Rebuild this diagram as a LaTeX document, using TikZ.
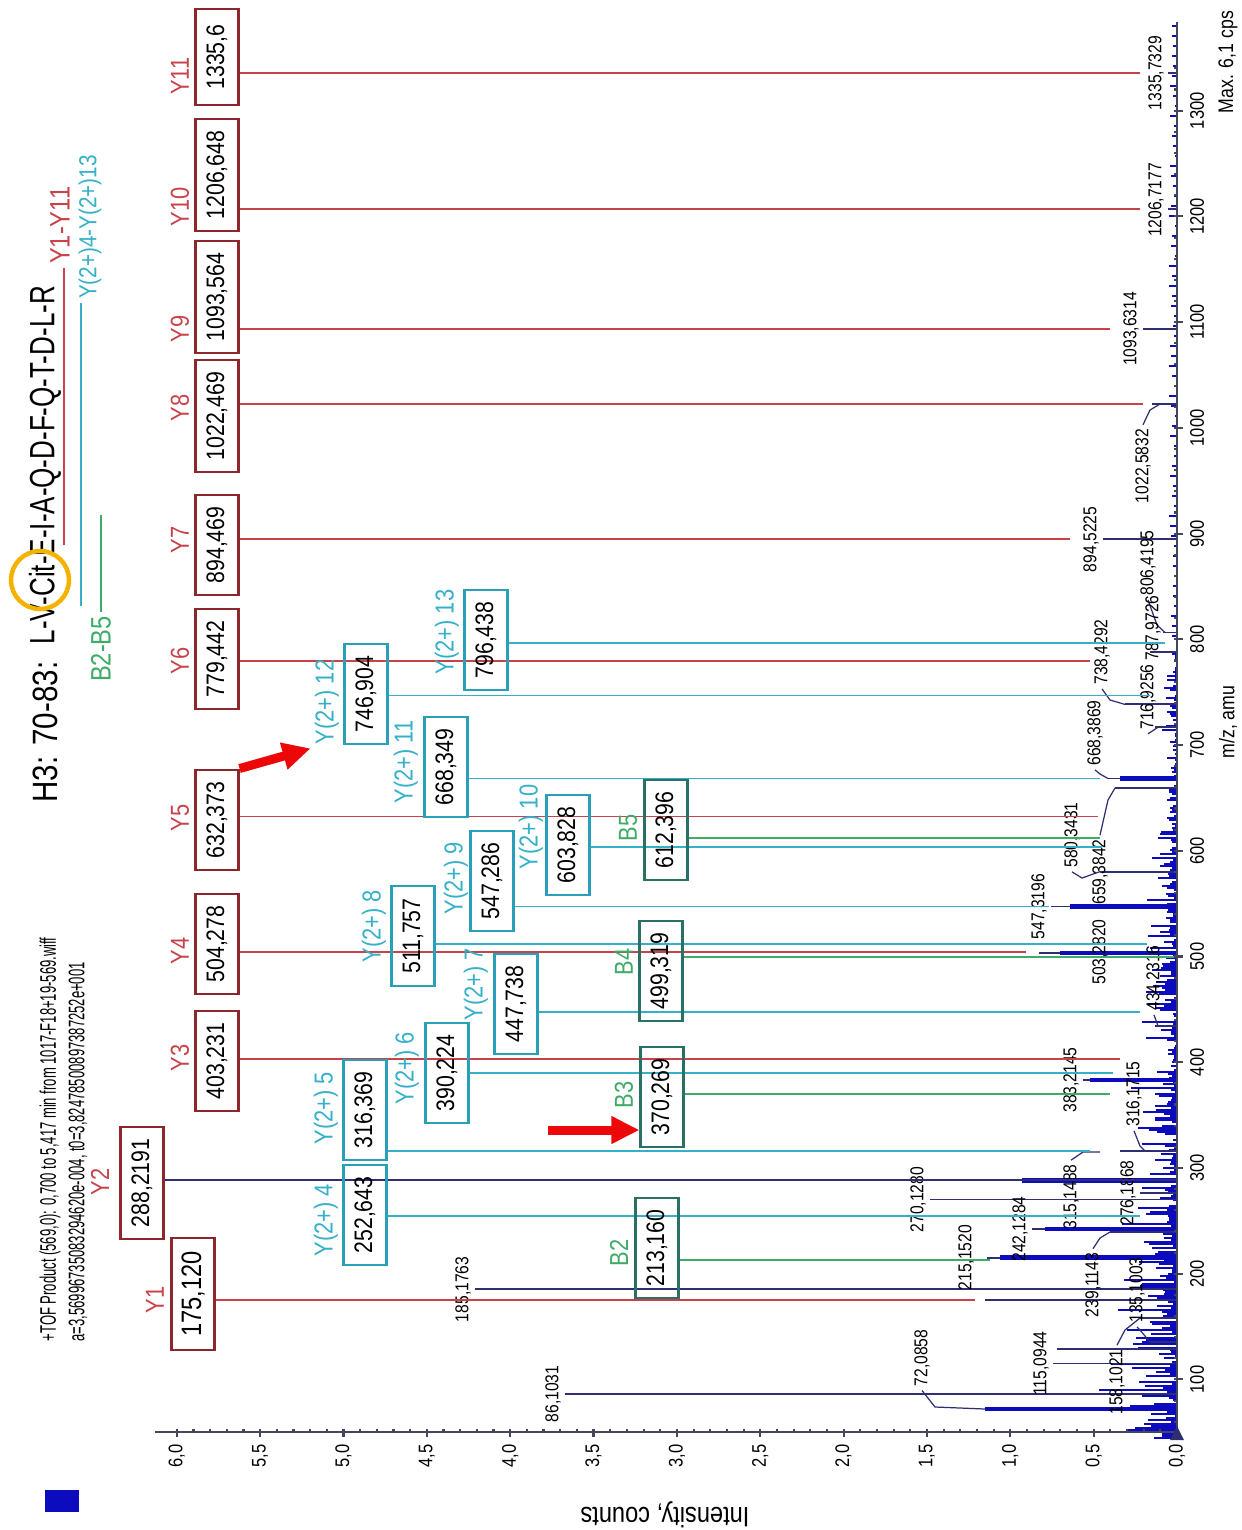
\documentclass[tikz,border=0pt]{standalone}
\usepackage{fontspec}
\setmainfont{Liberation Sans}[FakeStretch=0.84]
\newfontfamily\seqfont{Liberation Sans}[FakeStretch=0.74]
\newfontfamily\headfont{Liberation Sans}[FakeStretch=0.58]
\usetikzlibrary{arrows.meta}

% ion series colours
\definecolor{yred}{RGB}{200,66,74}
\definecolor{yboxred}{RGB}{140,40,45}
\definecolor{dcyan}{RGB}{52,176,200}
\definecolor{dboxcyan}{RGB}{40,160,185}
\definecolor{bgreen}{RGB}{62,172,104}
\definecolor{bboxgreen}{RGB}{42,112,100}
\definecolor{peaknavy}{RGB}{46,46,112}
\definecolor{specblue}{RGB}{12,12,190}
\definecolor{axisgrey}{RGB}{70,70,90}
\definecolor{arrowred}{RGB}{236,8,8}
\definecolor{ringorange}{RGB}{246,178,0}

\tikzset{
  ionbox/.style={rotate=90, line width=0.6pt, inner xsep=1.2mm, inner ysep=0pt,
    minimum height=4.3mm, minimum width=9.6mm, font=\fontsize{7.2}{8}\selectfont},
  ybox/.style={ionbox, draw=yboxred},
  dbox/.style={ionbox, draw=dboxcyan},
  bbox/.style={ionbox, draw=bboxgreen},
  ylab/.style={rotate=90, inner sep=1pt, text=yred, font=\fontsize{7.4}{8}\selectfont},
  dlab/.style={ylab, text=dcyan},
  blab/.style={ylab, text=bgreen},
  yline/.style={yred, line width=0.55pt},
  dline/.style={dcyan, line width=0.55pt},
  bline/.style={bgreen, line width=0.55pt},
  peak/.style={peaknavy, line width=0.55pt},
  bigpeak/.style={specblue, line width=1.4pt},
  noise/.style={specblue, line width=0.35pt},
  leader/.style={peaknavy, line width=0.35pt},
  pklab/.style={rotate=90, inner sep=1pt, font=\fontsize{5.3}{6}\selectfont},
  ticklab/.style={rotate=90, inner sep=1pt, font=\fontsize{5.6}{6}\selectfont},
  axisline/.style={axisgrey, line width=0.6pt},
  redarrow/.style={arrowred, line width=0.9mm, -{Triangle[length=2.8mm, width=2.6mm]}},
}

\begin{document}
\begin{tikzpicture}[x=0.1mm, y=-0.1mm]
  \useasboundingbox (0,0) rectangle (1242,1530);

  % Header
  \node (legsq) [fill=specblue, minimum width=3.5mm, minimum height=2.2mm, inner sep=0pt] at (62,1501) {};
  \node (hd1) [rotate=90, anchor=west, inner sep=0pt, font=\headfont\fontsize{6.4}{7}\selectfont] at (50,1342) {+TOF Product (569,0): 0,700 to 5,417 min from 1017-F18+19-569.wiff};
  \node (hd2) [rotate=90, anchor=west, inner sep=0pt, font=\headfont\fontsize{6.4}{7}\selectfont] at (78,1342) {a=3,56996735083294620e-004, t0=3,82478500897387252e+001};

  % Title and sequence
  \node (ttl) [rotate=90, anchor=west, inner sep=0pt, font=\fontsize{10}{12}\selectfont] at (45,803) {H3: 70-83:};
  \node (seq) [rotate=90, anchor=west, inner sep=0pt, font=\seqfont\fontsize{10}{12}\selectfont] at (45,645) {L-V-Cit-E-I-A-Q-D-F-Q-T-D-L-R};
  \node (citring) [circle, draw=ringorange, line width=0.45mm, minimum size=5.8mm] at (40,580) {};

  % Series coverage
  \node (ysum) [ylab, anchor=west, font=\fontsize{8}{9}\selectfont] at (60,268) {Y1-Y11};
  \coordinate (ystart) at (64,545);
  \draw[yline] (ystart) -- (ystart |- ysum.west);
  \node (dsum) [dlab, anchor=west, font=\fontsize{7}{8}\selectfont] at (90,303) {Y(2+)4-Y(2+)13};
  \coordinate (dstart) at (81,606);
  \draw[dline] (dstart) -- (dstart |- dsum.west);
  \node (bsum) [blab, anchor=east, font=\fontsize{8}{9}\selectfont] at (101,612) {B2-B5};
  \coordinate (bend) at (101,515);
  \draw[bline] (bsum.east) -- (bend);

  % Spectrum noise
  \pgfmathsetseed{7}
  \foreach \yy in {646,648,...,1438}{
    \pgfmathsetmacro\amp{5+(\yy-646)/792*38}
    \pgfmathsetmacro\len{\amp*rnd*rnd*2}
    \draw[noise] (1177,\yy) -- ++(-\len,0);
  }
  \foreach \yy in {26,36,...,640}{
    \pgfmathsetmacro\len{2+6*rnd}
    \draw[noise] (1177,\yy) -- ++(-\len,0);
  }

  % Measured peaks
  \foreach \xt/\yy in {1168/73, 1168/209.4, 1143/328.9, 1152/404, 1103/539.4, 1163/632.5,
      1150/652, 1125/704.4, 1155/727.2, 1108/778.5, 1115/788, 1100/871.6, 1051/906.5,
      1039/953, 1156/1026, 1083/1080, 1120/1151, 1140/1193, 930/1199.5, 1032/1229,
      1110/1232, 987/1257.7, 475/1289.4, 985/1300, 1140/1318, 1150/1342, 1057/1349,
      1053/1363.5, 565/1394, 985/1409}
    \draw[peak] (\xt,\yy) -- (1177,\yy);
  \foreach \xt/\yy in {985/1409, 1022/1180.4, 1000/1257.7, 1045/1229, 1090/1080, 1060/953, 1070/906.5, 1120/778.5}
    \draw[bigpeak] (\xt,\yy) -- (1177,\yy);

  % Peak labels
  \node (k1335) [pklab, anchor=south] at (1168,73) {1335,7329};
  \node (k1206) [pklab, anchor=south] at (1168,200) {1206,7177};
  \node (k1093) [pklab, anchor=south] at (1143,329) {1093,6314};
  \node (k1022) [pklab] at (1143,466) {1022,5832};
  \draw[leader] (k1022.east) -- (1150,410) -- (1160,404);
  \node (k894) [pklab, anchor=south] at (1103,539.4) {894,5225};
  \node (k806) [pklab] at (1148,563) {806,4195};
  \draw[leader] (k806.west) -- (1157,625) -- (1165,632.5);
  \node (k787) [pklab] at (1153,628) {787,9726};
  \node (k738) [pklab] at (1102,652) {738,4292};
  \draw[leader] (k738.west) -- (1110,700) -- (1125,704.4);
  \node (k716) [pklab] at (1148,697) {716,9256};
  \draw[leader] (k716.west) -- (1158,727.2);
  \node (k668) [pklab] at (1095,733) {668,3869};
  \draw[leader] (k668.west) -- (1100,774) -- (1108,778.5);
  \node (k580) [pklab] at (1072,835) {580,3431};
  \draw[leader] (k580.west) -- (1082,878) -- (1100,871.6);
  \node (k659) [pklab] at (1100,872) {659,3842};
  \draw[leader] (k659.east) -- (1108,800) -- (1115,788);
  \node (k547) [pklab, anchor=south] at (1051,906.5) {547,3196};
  \node (k503) [pklab] at (1100,952) {503,2820};
  \node (k434) [pklab] at (1154,978) {434,2316};
  \draw[leader] (k434.west) -- (1158,1026);
  \node (k383) [pklab, anchor=south] at (1083,1080) {383,2145};
  \node (k316) [pklab] at (1134,1094) {316,1715};
  \draw[leader] (k316.west) -- (1140,1146) -- (1145,1151);
  \node (k315) [pklab] at (1071,1197) {315,1488};
  \draw[leader] (k315.east) -- (1083,1152) -- (1100,1152);
  \node (k276) [pklab, anchor=south] at (1140,1193) {276,1868};
  \node (k270) [pklab, anchor=south] at (930,1199.5) {270,1280};
  \node (k242) [pklab, anchor=south] at (1032,1229) {242,1284};
  \node (k239) [pklab] at (1093,1285) {239,1143};
  \draw[leader] (k239.east) -- (1100,1238) -- (1110,1232);
  \node (k215) [pklab, anchor=south] at (978,1257.7) {215,1520};
  \node (k185) [pklab, anchor=south] at (475,1289.4) {185,1763};
  \node (k158) [pklab] at (1117,1382) {158,1021};
  \draw[leader] (k158.east) -- (1125,1330) -- (1140,1318);
  \node (k135) [pklab] at (1137,1290) {135,1003};
  \draw[leader] (k135.west) -- (1140,1330) -- (1150,1342);
  \node (k115) [pklab, anchor=south] at (1053,1363.5) {115,0944};
  \node (k86) [pklab, anchor=south] at (565,1394) {86,1031};
  \node (k72) [pklab] at (922,1358) {72,0858};
  \draw[leader] (k72.west) -- (935,1407) -- (985,1409);

  % Y ions
  \node (yb11) [ybox] at (217,57) {1335,6};
  \node (yb10) [ybox] at (217,175) {1206,648};
  \node (yb9) [ybox] at (217,297) {1093,564};
  \node (yb8) [ybox] at (217,416) {1022,469};
  \node (yb7) [ybox] at (217,545) {894,469};
  \node (yb6) [ybox] at (217,659) {779,442};
  \node (yb5) [ybox] at (217,820) {632,373};
  \node (yb4) [ybox] at (217,944) {504,278};
  \node (yb3) [ybox] at (217,1061) {403,231};
  \node (yb2) [ybox] at (142,1183) {288,2191};
  \node (yb1) [ybox, minimum width=11.2mm, font=\fontsize{8}{9}\selectfont] at (193,1294) {175,120};

  \node (yl11) [ylab] at (180,76) {Y11};
  \node (yl10) [ylab] at (180,207) {Y10};
  \node (yl9) [ylab] at (180,329) {Y9};
  \node (yl8) [ylab] at (180,408) {Y8};
  \node (yl7) [ylab] at (180,540) {Y7};
  \node (yl6) [ylab] at (180,661) {Y6};
  \node (yl5) [ylab] at (180,818) {Y5};
  \node (yl4) [ylab] at (180,951) {Y4};
  \node (yl3) [ylab] at (180,1058) {Y3};
  \node (yl2) [ylab] at (100,1182) {Y2};
  \node (yl1) [ylab] at (155,1300) {Y1};

  \coordinate (py11) at (1140,73);
  \coordinate (py10) at (1140,209.4);
  \coordinate (py9) at (1110,328.9);
  \coordinate (py8) at (1143,404.1);
  \coordinate (py7) at (1070,539.4);
  \coordinate (py6) at (1090,661.1);
  \coordinate (py5) at (1098,816.5);
  \coordinate (py4) at (1026,952);
  \coordinate (py3) at (1120,1058.8);
  \coordinate (py2) at (1177,1180.4);
  \coordinate (py1) at (975,1300);
  \foreach \n in {11,10,9,8,7,6,5,4,3,1}
    \draw[yline] (yb\n.south |- py\n) -- (py\n);
  \draw[peak] (yb2.south |- py2) -- (py2);

  % Y(2+) ions
  \node (dc4) [dbox] at (365,1215) {252,643};
  \node (dc5) [dbox] at (365,1110) {316,369};
  \node (dc6) [dbox] at (447,1073) {390,224};
  \node (dc7) [dbox] at (516,1004) {447,738};
  \node (dc8) [dbox] at (413,936) {511,757};
  \node (dc9) [dbox] at (492,881) {547,286};
  \node (dc10) [dbox] at (568,845) {603,828};
  \node (dc11) [dbox] at (446,767) {668,349};
  \node (dc12) [dbox] at (366,694) {746,904};
  \node (dc13) [dbox] at (486,640) {796,438};

  \node (dl4) [dlab] at (326,1220) {Y(2+) 4};
  \node (dl5) [dlab] at (326,1108) {Y(2+) 5};
  \node (dl6) [dlab] at (407,1068) {Y(2+) 6};
  \node (dl7) [dlab] at (476,984) {Y(2+) 7};
  \node (dl8) [dlab] at (374,926) {Y(2+) 8};
  \node (dl9) [dlab] at (456,878) {Y(2+) 9};
  \node (dl10) [dlab] at (531,827) {Y(2+) 10};
  \node (dl11) [dlab] at (406,762) {Y(2+) 11};
  \node (dl12) [dlab] at (327,702) {Y(2+) 12};
  \node (dl13) [dlab] at (447,632) {Y(2+) 13};

  \coordinate (pd4) at (1140,1216);
  \coordinate (pd5) at (1090,1150.7);
  \coordinate (pd6) at (1113,1072.6);
  \coordinate (pd7) at (1140,1011.8);
  \coordinate (pd8) at (1147,944.1);
  \coordinate (pd9) at (1049,906.5);
  \coordinate (pd10) at (1102,846.7);
  \coordinate (pd11) at (1100,778.5);
  \coordinate (pd12) at (1150,695.5);
  \coordinate (pd13) at (1165,643.1);
  \foreach \n in {4,...,13}
    \draw[dline] (dc\n.south |- pd\n) -- (pd\n);

  % B ions
  \node (bb2) [bbox] at (657,1248) {213,160};
  \node (bb3) [bbox] at (662,1097) {370,269};
  \node (bb4) [bbox] at (661,971) {499,319};
  \node (bb5) [bbox] at (666,830) {612,396};

  \node (bl2) [blab] at (619,1253) {B2};
  \node (bl3) [blab] at (624,1095) {B3};
  \node (bl4) [blab] at (624,962) {B4};
  \node (bl5) [blab] at (628,828) {B5};

  \coordinate (pb2) at (990,1259.8);
  \coordinate (pb3) at (1110,1093.7);
  \coordinate (pb4) at (1174,957.2);
  \coordinate (pb5) at (1100,837.7);
  \foreach \n in {2,...,5}
    \draw[bline] (bb\n.south |- pb\n) -- (pb\n);

  % Highlight arrows
  \draw[redarrow] (yb5.south east) -- (dl12.north west);
  \coordinate (tail3) at (548,1130);
  \draw[redarrow] (tail3) -- (tail3 -| bb3.north);

  % m/z axis
  \draw[axisline] (1177,22) -- (1177,1432);
  \foreach \m in {60,80,...,1340}{
    \pgfmathsetmacro\yy{1300-(\m-175.12)*1.0573}
    \draw[axisline] (1177,\yy) -- (1174,\yy);
  }
  \foreach \m in {100,200,...,1300}{
    \pgfmathsetmacro\yy{1300-(\m-175.12)*1.0573}
    \draw[axisline] (1177,\yy) -- (1183,\yy);
    \node[ticklab, anchor=north] at (1186,\yy) {\m};
  }
  \node (mzlab) [ticklab, font=\fontsize{6}{7}\selectfont] at (1228,722) {m/z, amu};
  \node (maxlab) [ticklab, font=\fontsize{6}{7}\selectfont] at (1228,62) {Max. 6,1 cps};

  % Intensity axis
  \draw[axisline] (155,1432) -- (1177,1432);
  \foreach \i in {0,...,60}
    \draw[axisline] (1177-16.67*\i,1432) -- (1177-16.67*\i,1429);
  \foreach \i in {0,...,12}{
    \pgfmathsetmacro\xx{1177-83.35*\i}
    \pgfmathsetmacro\vv{\i/2}
    \draw[axisline] (\xx,1432) -- (\xx,1437);
    \node[ticklab, anchor=east] at (\xx,1440) {\pgfmathprintnumber[fixed, fixed zerofill, precision=1, use comma, assume math mode=true]{\vv}};
  }
  \fill[peaknavy] (1170,1440) -- (1184,1440) -- (1177,1426) -- cycle;
  \node (ilab) [rotate=180, font=\fontsize{8}{9}\selectfont] at (665,1515) {Intensity, counts};

\end{tikzpicture}
\end{document}
